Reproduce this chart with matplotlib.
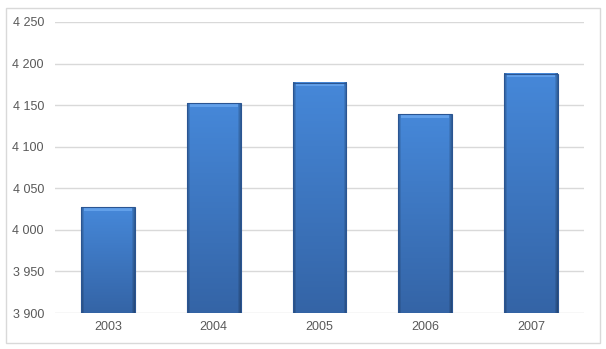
import numpy as np
import matplotlib.pyplot as plt
from matplotlib.patches import Rectangle
from matplotlib.colors import to_rgb

# Daten
years = ['2003', '2004', '2005', '2006', '2007']
values = [4027, 4152, 4177, 4139, 4188]
y_ticks = [3900, 3950, 4000, 4050, 4100, 4150, 4200, 4250]

def fmt(v):
    return f'{v:,}'.replace(',', ' ')

plt.rcParams['font.family'] = ['Liberation Sans', 'DejaVu Sans']

fig = plt.figure(figsize=(6.06, 3.49), dpi=100)
# Rahmen um das Diagramm
fig.patches.append(Rectangle((6 / 606, 1 - 343 / 349), 594 / 606, 335 / 349,
                             transform=fig.transFigure, fill=False,
                             edgecolor='#d9d9d9', linewidth=1))

ax = fig.add_axes([55 / 606, 1 - 313 / 349, 529 / 606, 291 / 349])

for s in ax.spines.values():
    s.set_visible(False)
ax.set_yticks(y_ticks)
ax.set_yticklabels([fmt(v) for v in y_ticks])
ax.set_xticks(range(len(years)))
ax.set_xticklabels(years)
ax.tick_params(length=0, labelsize=9, colors='#595959', pad=8)
ax.tick_params(axis='x', pad=6)
ax.grid(axis='y', color='#d9d9d9', linewidth=1)
ax.set_axisbelow(True)

# Farbverlauf für die Balken
top_c = np.array(to_rgb('#4688d9'))
bot_c = np.array(to_rgb('#3464a6'))
light = np.array(to_rgb('#62a0ea'))
w = 0.51
bar_px = 54
for i, v in enumerate(values):
    x0 = i - w / 2
    hpx = int(round((v - 3900) * 0.836))
    ys = np.linspace(0, 1, hpx)[:, None, None]  # 0 = unten, 1 = oben
    img = bot_c + (top_c - bot_c) * ys
    img = np.repeat(img, bar_px, axis=1)
    # dunkle Ränder links/rechts
    xp = np.arange(bar_px)
    edge = np.minimum(xp, bar_px - 1 - xp)
    fac = np.where(edge < 3, 0.72 + 0.09 * edge, 1.0)
    img = img * fac[None, :, None]
    # heller Rand oben
    img[-4:-1, 3:-3, :] = light
    img = np.clip(img, 0, 1)
    ax.imshow(img, extent=(x0, x0 + w, 3900, v), origin='lower', aspect='auto',
              interpolation='bilinear', zorder=2)
    ax.add_patch(Rectangle((x0, 3900), w, v - 3900, fill=False,
                           edgecolor='#2a5592', linewidth=0.8, zorder=3))

ax.set_xlim(-0.5, len(years) - 0.5)
ax.set_ylim(3900, 4250)

fig.savefig('out.png', dpi=100)
